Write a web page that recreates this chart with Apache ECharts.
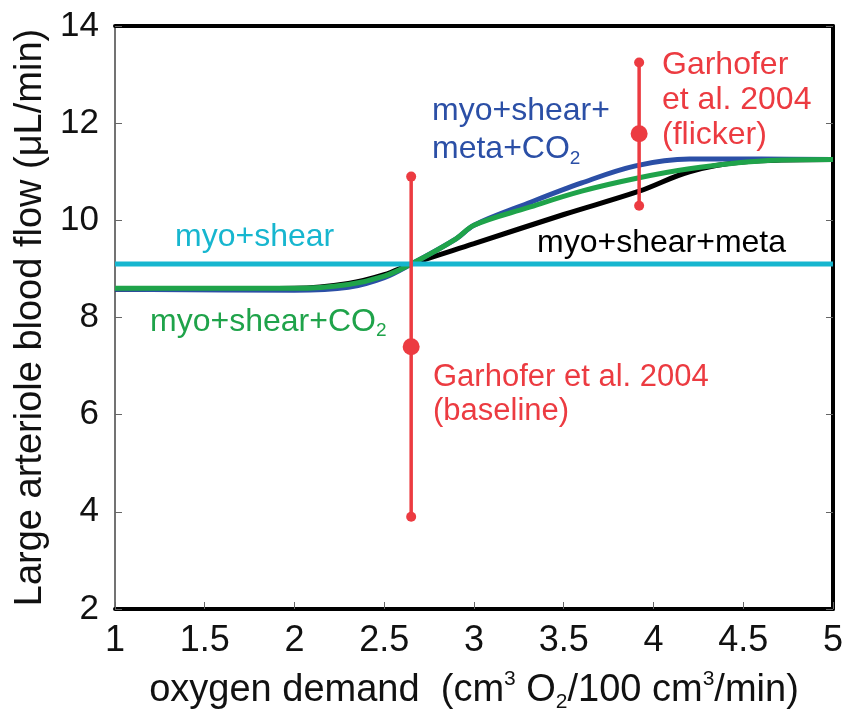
<!DOCTYPE html>
<html>
<head>
<meta charset="utf-8">
<script src="https://cdn.jsdelivr.net/npm/echarts@6/dist/echarts.min.js"></script>
<style>
html, body { margin: 0; padding: 0; background: #fff; }
#chart { width: 846px; height: 718px; }
</style>
</head>
<body>
<div id="chart"></div>
<script>
// tick labels
const xTicks = [1, 1.5, 2, 2.5, 3, 3.5, 4, 4.5, 5];
const yTicks = [2, 4, 6, 8, 10, 12, 14];

// myo+shear (flat)
const shearX = [1, 5];
const shearY = [9.1, 9.1];

// myo+shear+meta (black)
const metaX = [1, 2, 2.3, 2.5, 2.65, 3.0, 3.5, 3.92, 4.2, 4.5, 5];
const metaY = [8.58, 8.6, 8.7, 8.88, 9.1, 9.52, 10.12, 10.6, 11.0, 11.2, 11.25];

// myo+shear+meta+CO2 (blue)
const metaCo2X = [1, 2, 2.3, 2.5, 2.65, 2.9, 3.0, 3.3, 3.6, 3.9, 4.2, 4.6, 5];
const metaCo2Y = [8.58, 8.56, 8.62, 8.82, 9.1, 9.62, 9.9, 10.35, 10.77, 11.12, 11.26, 11.26, 11.25];

// myo+shear+CO2 (green)
const co2X = [1, 2, 2.3, 2.5, 2.65, 2.9, 3.0, 3.3, 3.6, 3.9, 4.2, 4.6, 5];
const co2Y = [8.6, 8.6, 8.68, 8.85, 9.1, 9.62, 9.9, 10.26, 10.6, 10.86, 11.06, 11.22, 11.25];

// Garhofer et al. 2004 (baseline, flicker)
const obsX = [2.65, 3.92];
const obsLow = [3.9, 10.3];
const obsMean = [7.4, 11.78];
const obsHigh = [10.9, 13.25];

const FONT = "'Liberation Sans', Arial, sans-serif";
const RED = '#ec3b41';
const pairs = (xs, ys) => xs.map((x, i) => [x, ys[i]]);

const chart = echarts.init(document.getElementById('chart'));

const curve = (name, xs, ys, color, z) => ({
  name: name,
  type: 'line',
  data: pairs(xs, ys),
  smooth: 0.35,
  showSymbol: false,
  symbol: 'none',
  lineStyle: { color: color, width: 5 },
  z: z,
  silent: true
});

const series = [
  curve('myo+shear+meta', metaX, metaY, '#000000', 2),
  curve('myo+shear+meta+CO2', metaCo2X, metaCo2Y, '#2b4fa6', 3),
  curve('myo+shear+CO2', co2X, co2Y, '#1fa34a', 4),
  curve('myo+shear', shearX, shearY, '#17b6cf', 5)
];

// vertical bars with end dots
obsX.forEach((x, i) => {
  series.push({
    type: 'line',
    data: [[x, obsLow[i]], [x, obsHigh[i]]],
    symbol: 'circle',
    symbolSize: 10,
    itemStyle: { color: RED, opacity: 1 },
    lineStyle: { color: RED, width: 3.5 },
    z: 6,
    silent: true
  });
});
series.push({
  type: 'scatter',
  data: pairs(obsX, obsMean),
  symbol: 'circle',
  symbolSize: 17,
  itemStyle: { color: RED, opacity: 1 },
  z: 7,
  silent: true
});

const axisBase = {
  type: 'value',
  min: xTicks[0],
  max: xTicks[xTicks.length - 1],
  interval: xTicks[1] - xTicks[0],
  splitLine: { show: false }
};
const yBase = {
  type: 'value',
  min: yTicks[0],
  max: yTicks[yTicks.length - 1],
  interval: yTicks[1] - yTicks[0],
  splitLine: { show: false }
};

const txt = (text, left, top, color, extra) => ({
  type: 'text',
  left: left,
  top: top,
  style: Object.assign({
    text: text,
    fill: color,
    fontSize: 32,
    fontFamily: FONT,
    lineHeight: 36,
    rich: {
      sub: { fontSize: 19, lineHeight: 14, verticalAlign: 'bottom', fill: color, fontFamily: FONT }
    }
  }, extra || {}),
  z: 100
});

const option = {
  backgroundColor: '#ffffff',
  animation: false,
  grid: { left: 115, right: 12, top: 26, bottom: 107, containLabel: false },
  xAxis: [
    Object.assign({}, axisBase, {
      position: 'bottom',
      axisLine: { show: true, lineStyle: { color: '#000', width: 4 } },
      axisTick: { show: true, inside: true, length: 7, lineStyle: { color: '#666', width: 1 } },
      axisLabel: { fontSize: 36, color: '#111', fontFamily: FONT, margin: 14,
        formatter: v => String(v) },
      name: 'oxygen demand  (cm{sup|3} O{sub|2}/100 cm{sup|3}/min)',
      nameLocation: 'middle',
      nameGap: 60,
      nameTextStyle: {
        fontSize: 38, color: '#111', fontFamily: FONT, lineHeight: 44,
        rich: {
          sup: { fontSize: 21, lineHeight: 24, verticalAlign: 'top', color: '#111', fontFamily: FONT },
          sub: { fontSize: 21, lineHeight: 22, verticalAlign: 'bottom', color: '#111', fontFamily: FONT }
        }
      }
    }),
    Object.assign({}, axisBase, {
      position: 'top',
      axisLine: { show: true, lineStyle: { color: '#000', width: 4 } },
      axisTick: { show: false },
      axisLabel: { show: false }
    })
  ],
  yAxis: [
    Object.assign({}, yBase, {
      position: 'left',
      axisLine: { show: true, lineStyle: { color: '#444', width: 1.5 } },
      axisTick: { show: true, inside: true, length: 7, lineStyle: { color: '#666', width: 1 } },
      axisLabel: { fontSize: 35, color: '#111', fontFamily: FONT, margin: 16 },
      name: 'Large arteriole blood flow (\u03bcL/min)',
      nameLocation: 'middle',
      nameGap: 64,
      nameTextStyle: { fontSize: 38, color: '#111', fontFamily: FONT }
    }),
    Object.assign({}, yBase, {
      position: 'right',
      axisLine: { show: true, lineStyle: { color: '#000', width: 4 } },
      axisTick: { show: true, inside: true, length: 7, lineStyle: { color: '#666', width: 1 } },
      axisLabel: { show: false }
    })
  ],
  graphic: [
    txt('myo+shear', 175, 219, '#17b6cf'),
    txt('myo+shear+meta', 537, 225, '#000000'),
    txt('myo+shear+CO{sub|2}', 150, 304, '#1fa34a'),
    txt('myo+shear+\nmeta+CO{sub|2}', 432, 92, '#2b4fa6', { lineHeight: 38 }),
    txt('Garhofer\net al. 2004\n(flicker)', 662, 48, RED, { lineHeight: 35 }),
    txt('Garhofer et al. 2004\n(baseline)', 433, 360, RED, { fontSize: 31, lineHeight: 34 })
  ],
  series: series
};

chart.setOption(option);
</script>
</body>
</html>
